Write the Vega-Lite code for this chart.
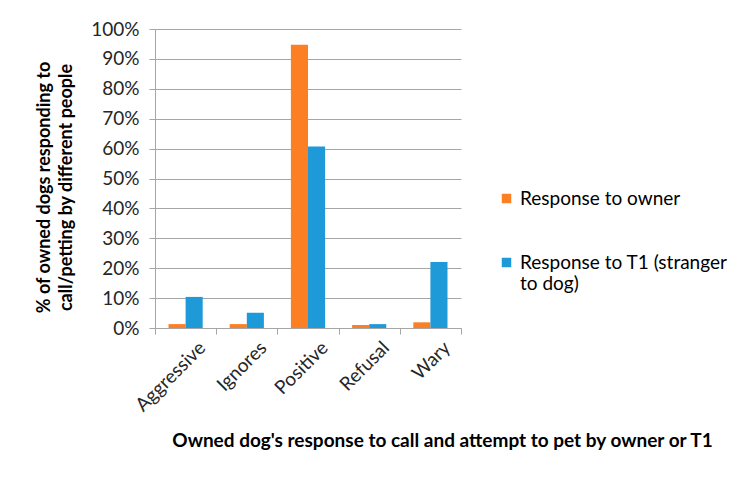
{
  "$schema": "https://vega.github.io/schema/vega-lite/v6.json",
  "width": 306,
  "height": 299,
  "autosize": {"type": "none"},
  "padding": {"left": 155, "top": 29, "right": 289, "bottom": 162},
  "background": "white",
  "config": {
    "font": "Lato",
    "view": {"stroke": null}
  },
  "data": {
    "values": [
      {"response": "Aggressive", "series": "Response to owner", "pct": 0.013},
      {"response": "Aggressive", "series": "Response to T1 (stranger to dog)", "pct": 0.104},
      {"response": "Ignores", "series": "Response to owner", "pct": 0.013},
      {"response": "Ignores", "series": "Response to T1 (stranger to dog)", "pct": 0.051},
      {"response": "Positive", "series": "Response to owner", "pct": 0.947},
      {"response": "Positive", "series": "Response to T1 (stranger to dog)", "pct": 0.607},
      {"response": "Refusal", "series": "Response to owner", "pct": 0.01},
      {"response": "Refusal", "series": "Response to T1 (stranger to dog)", "pct": 0.013},
      {"response": "Wary", "series": "Response to owner", "pct": 0.019},
      {"response": "Wary", "series": "Response to T1 (stranger to dog)", "pct": 0.221}
    ]
  },
  "mark": {"type": "bar"},
  "encoding": {
    "x": {
      "field": "response",
      "type": "nominal",
      "sort": null,
      "scale": {"paddingInner": 0, "paddingOuter": 0},
      "axis": {
        "title": "Owned dog's response to call and attempt to pet by owner or T1",
        "titleFontSize": 19,
        "titleFontWeight": "bold",
        "titleColor": "#000000",
        "titleX": 287,
        "titleY": 112,
        "titleAnchor": "middle",
        "titleBaseline": "middle",
        "labelAngle": -45,
        "labelAlign": "right",
        "labelBaseline": "top",
        "labelFontSize": 19,
        "labelColor": "#262626",
        "labelPadding": 4,
        "labelOffset": 10,
        "tickBand": "extent",
        "tickColor": "#a6a6a6",
        "tickSize": 6,
        "domainColor": "#a6a6a6"
      }
    },
    "xOffset": {
      "field": "series",
      "type": "nominal",
      "sort": ["Response to owner", "Response to T1 (stranger to dog)"],
      "scale": {"paddingInner": 0, "paddingOuter": 0.79}
    },
    "y": {
      "field": "pct",
      "type": "quantitative",
      "scale": {"domain": [0, 1]},
      "axis": {
        "title": ["% of owned dogs responding to", "call/petting by different people"],
        "titleFontSize": 18,
        "titleFontWeight": "bold",
        "titleColor": "#000000",
        "titleLineHeight": 22,
        "titleX": -102,
        "titleY": 158,
        "titleAnchor": "middle",
        "titleBaseline": "bottom",
        "values": [0, 0.1, 0.2, 0.3, 0.4, 0.5, 0.6, 0.7, 0.8, 0.9, 1],
        "format": ".0%",
        "labelFontSize": 19,
        "labelColor": "#262626",
        "labelPadding": 10,
        "tickColor": "#a6a6a6",
        "tickSize": 6,
        "domainColor": "#a6a6a6",
        "gridColor": "#a6a6a6",
        "grid": true
      }
    },
    "color": {
      "field": "series",
      "type": "nominal",
      "sort": ["Response to owner", "Response to T1 (stranger to dog)"],
      "scale": {"range": ["#fd7f23", "#1f9ad9"]},
      "legend": {
        "title": null,
        "orient": "none",
        "legendX": 342,
        "legendY": 160,
        "symbolType": "square",
        "symbolSize": 90,
        "symbolStrokeWidth": 0,
        "labelFontSize": 19,
        "labelColor": "#000000",
        "labelLimit": 300,
        "rowPadding": 44,
        "labelExpr": "datum.label == 'Response to T1 (stranger to dog)' ? ['Response to T1 (stranger', 'to dog)'] : datum.label"
      }
    }
  }
}
